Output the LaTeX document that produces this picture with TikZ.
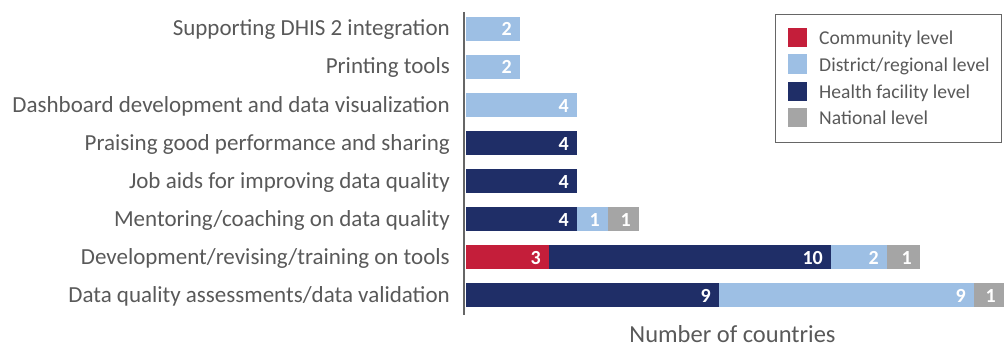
\documentclass[tikz,border=0pt]{standalone}
\usepackage{fontspec}
\setmainfont{Carlito}
\definecolor{comm}{HTML}{C41E3A}
\definecolor{dist}{HTML}{9DBFE4}
\definecolor{hfac}{HTML}{1F2E67}
\definecolor{natl}{HTML}{A5A5A5}
\definecolor{txt}{HTML}{595959}
\definecolor{axc}{HTML}{666666}
\newcommand\barseg[6]{%
  \fill[#5] (#2,#4) rectangle (#3,#4+24);
  \node[val] (#1) at (#3-8,#4+19) {#6};}
\begin{document}
\begin{tikzpicture}[x=1pt,y=-1pt,
  lab/.style={anchor=base east, text=txt, font=\fontsize{23}{26}\selectfont, inner sep=0pt},
  val/.style={anchor=base east, text=white, font=\bfseries\fontsize{20}{22}\selectfont, inner sep=0pt},
  legtxt/.style={anchor=base west, text=txt, font=\fontsize{19.6}{22}\selectfont, inner sep=0pt},
  swatch/.style={minimum width=19pt, minimum height=19pt, inner sep=0pt, anchor=west}]
\useasboundingbox (0,0) rectangle (1008,345);
% category labels
\node[lab] (l1) at (450,36) {Supporting DHIS 2 integration};
\node[lab] (l2) at (450,74) {Printing tools};
\node[lab] (l3) at (450,112) {Dashboard development and data visualization};
\node[lab] (l4) at (450,150) {Praising good performance and sharing};
\node[lab] (l5) at (450,188) {Job aids for improving data quality};
\node[lab] (l6) at (450,226) {Mentoring/coaching on data quality};
\node[lab] (l7) at (450,264) {Development/revising/training on tools};
\node[lab] (l8) at (450,302) {Data quality assessments/data validation};
% bars
\barseg{v1}{466}{520}{17}{dist}{2}
\barseg{v2}{466}{520}{55}{dist}{2}
\barseg{v3}{466}{577}{93}{dist}{4}
\barseg{v4}{466}{577}{131}{hfac}{4}
\barseg{v5}{466}{577}{169}{hfac}{4}
\barseg{v6a}{466}{577}{207}{hfac}{4}
\barseg{v6b}{577}{608}{207}{dist}{1}
\barseg{v6c}{608}{639}{207}{natl}{1}
\barseg{v7a}{466}{549}{245}{comm}{3}
\barseg{v7b}{549}{831}{245}{hfac}{10}
\barseg{v7c}{831}{887}{245}{dist}{2}
\barseg{v7d}{887}{920}{245}{natl}{1}
\barseg{v8a}{466}{719}{283}{hfac}{9}
\barseg{v8b}{719}{974}{283}{dist}{9}
\barseg{v8c}{974}{1004}{283}{natl}{1}
% axis
\coordinate (axtop) at (464.3,12);
\coordinate (axbot) at (464.3,315);
\draw[axc, line width=2pt] (axtop) -- (axbot);
\node[anchor=base, text=txt, font=\fontsize{24.5}{27}\selectfont, inner sep=0pt] (xlab) at (732.5,342) {Number of countries};
% legend
\node[draw=axc, line width=1.2pt, minimum width=226pt, minimum height=128pt, anchor=north west, inner sep=0pt] (legend) at (775,14) {};
\node[swatch, fill=comm] (s1) at (788,37.5) {};
\node[swatch, fill=dist] (s2) at (788,64) {};
\node[swatch, fill=hfac] (s3) at (788,91) {};
\node[swatch, fill=natl] (s4) at (788,117) {};
\node[legtxt] (t1) at (819,44.5) {Community level};
\node[legtxt] (t2) at (819,71) {District/regional level};
\node[legtxt] (t3) at (819,98) {Health facility level};
\node[legtxt] (t4) at (819,124) {National level};
\end{tikzpicture}
\end{document}
